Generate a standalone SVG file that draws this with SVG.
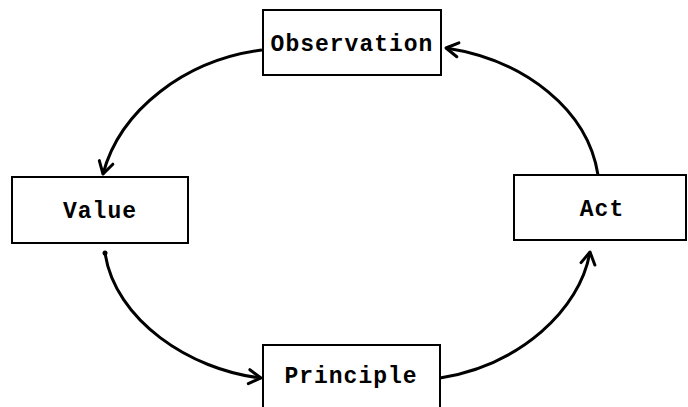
<svg xmlns="http://www.w3.org/2000/svg" width="688" height="407" viewBox="0 0 688 407">
<style>
.box{fill:#fff;stroke:#000;stroke-width:2}
.lbl{font-family:"Liberation Mono","DejaVu Sans Mono",monospace;font-weight:bold;font-size:23px;letter-spacing:1px;text-anchor:middle;fill:#000}
.arc{fill:none;stroke:#000;stroke-width:3;marker-end:url(#ah)}
</style>
<defs>
<marker id="ah" markerUnits="userSpaceOnUse" markerWidth="30" markerHeight="30" viewBox="-15 -15 30 30" refX="0" refY="0" orient="auto">
<path d="M -12 -7 L 0 0 L -12 7" fill="none" stroke="#000" stroke-width="3" stroke-linecap="round" stroke-linejoin="round"/>
</marker>
</defs>
<g id="connectors">
<path class="arc" d="M 262 50 C 185 60 120 110 103 174"/>
<path class="arc" d="M 105 253 C 115 320 190 370 261 378"/>
<path class="arc" d="M 440 378 C 520 365 580 310 590 252"/>
<path class="arc" d="M 598 175 C 588 110 525 60 446 48"/>
<circle cx="105" cy="253" r="2.5" fill="#000"/>
</g>
<g id="observation"><rect class="box" x="263" y="10" width="178" height="65"/><text class="lbl" x="352" y="51">Observation</text></g>
<g id="value"><rect class="box" x="12" y="177" width="176" height="66"/><text class="lbl" x="100" y="218">Value</text></g>
<g id="act"><rect class="box" x="514" y="175" width="172" height="65"/><text class="lbl" x="602" y="216">Act</text></g>
<g id="principle"><rect class="box" x="263" y="345" width="177" height="70"/><text class="lbl" x="351" y="383">Principle</text></g>
</svg>
